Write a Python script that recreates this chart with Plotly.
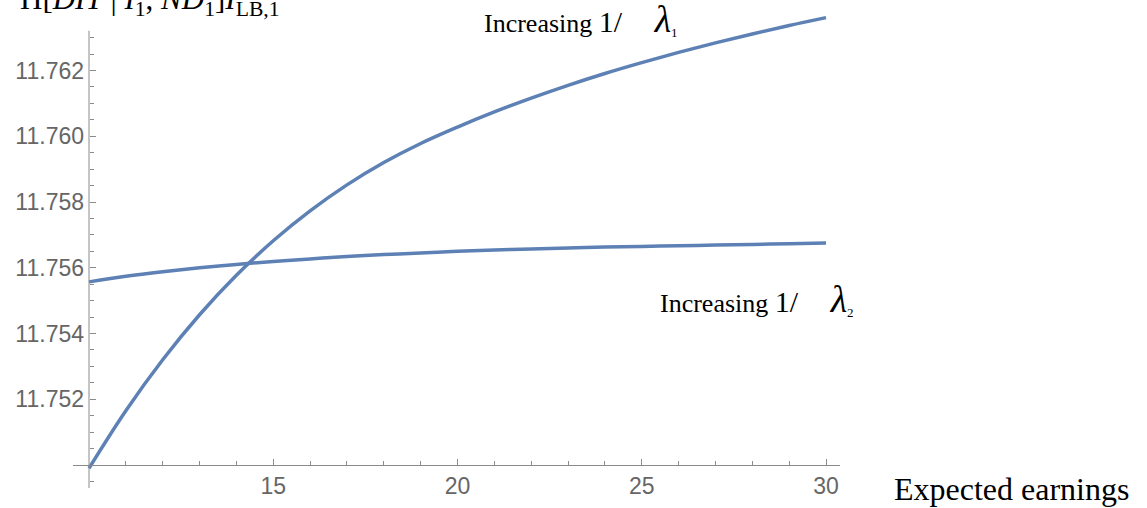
import plotly.graph_objects as go

# Data
earnings = [10, 11, 12, 13, 14, 15, 16, 17, 18, 19, 20,
            21, 22, 23, 24, 25, 26, 27, 28, 29, 30]
profit_lambda1 = [11.74990, 11.75165, 11.75320, 11.75457, 11.75577, 11.75682,
                  11.75773, 11.75852, 11.75920, 11.75978, 11.76028,
                  11.76074, 11.76116, 11.76155, 11.76191, 11.76224,
                  11.76255, 11.76284, 11.76311, 11.76337, 11.76361]
profit_lambda2 = [11.75557, 11.75574, 11.75588, 11.75600, 11.75610, 11.75619,
                  11.75627, 11.75634, 11.75640, 11.75645, 11.75650,
                  11.75654, 11.75657, 11.75660, 11.75663, 11.75665,
                  11.75667, 11.75669, 11.75671, 11.75673, 11.75675]

x_major = [15, 20, 25, 30]
x_minor = [11, 12, 13, 14, 16, 17, 18, 19, 21, 22, 23, 24, 26, 27, 28, 29]
y_major = [11.752, 11.754, 11.756, 11.758, 11.760, 11.762]
y_major_labels = ["11.752", "11.754", "11.756", "11.758", "11.760", "11.762"]
y_minor = [11.7495, 11.7505, 11.751, 11.7515, 11.7525, 11.753, 11.7535,
           11.7545, 11.755, 11.7555, 11.7565, 11.757, 11.7575, 11.7585,
           11.759, 11.7595, 11.7605, 11.761, 11.7615, 11.7625, 11.763]

LINE = "#5E81B5"
AX = "#8a8a8a"
TICKFONT = dict(family="Liberation Sans, Arial, sans-serif", size=23, color="#666666")
SERIF = "Liberation Serif, Times New Roman, serif"

X_RANGE = [9.5658, 30.380]
Y_RANGE = [11.74930, 11.76378]

fig = go.Figure()
fig.add_trace(go.Scatter(x=earnings, y=profit_lambda1, mode="lines",
                         line=dict(color=LINE, width=3.5, shape="spline"),
                         showlegend=False, hoverinfo="skip"))
fig.add_trace(go.Scatter(x=earnings, y=profit_lambda2, mode="lines",
                         line=dict(color=LINE, width=3.5, shape="spline"),
                         showlegend=False, hoverinfo="skip"))

xpos = (10 - X_RANGE[0]) / (X_RANGE[1] - X_RANGE[0])
ypos = (11.750 - Y_RANGE[0]) / (Y_RANGE[1] - Y_RANGE[0])

fig.update_layout(
    width=1147, height=508,
    margin=dict(l=73, r=307, t=12, b=20, autoexpand=False),
    paper_bgcolor="white", plot_bgcolor="white",
    xaxis=dict(range=X_RANGE, domain=[0, 1], anchor="free", position=ypos,
               automargin=False,
               showgrid=False, zeroline=False,
               showline=True, linecolor=AX, linewidth=1,
               tickmode="array", tickvals=x_major, ticktext=[str(v) for v in x_major],
               ticks="inside", ticklen=6, tickcolor=AX, tickwidth=1,
               tickfont=TICKFONT,
               minor=dict(tickmode="array", tickvals=x_minor, ticks="inside",
                          ticklen=4, tickcolor=AX, tickwidth=1, showgrid=False)),
    yaxis=dict(range=Y_RANGE, domain=[0, 1], anchor="free", position=xpos,
               automargin=False, ticklabelstandoff=5,
               showgrid=False, zeroline=False, showline=False,
               tickmode="array", tickvals=y_major, ticktext=y_major_labels,
               ticks="inside", ticklen=6, tickcolor=AX, tickwidth=1,
               tickfont=TICKFONT,
               minor=dict(tickmode="array", tickvals=y_minor, ticks="inside",
                          ticklen=4, tickcolor=AX, tickwidth=1, showgrid=False)),
    shapes=[dict(type="line", xref="x", yref="y", x0=10, x1=10,
                 y0=11.74930, y1=11.76321, line=dict(color=AX, width=1))],
)

def px_x(p):
    return (p - 73) / 767.0

def px_y(p):
    return (488 - p) / 476.0

LAM = ("Increasing <span style='font-size:30px'>1/</span>&nbsp;&nbsp;&nbsp;&nbsp;&nbsp;"
       "<span style='font-size:38px'><i>λ</i></span>"
       "<sub><span style='font-size:13px'>{}</span></sub>")

fig.add_annotation(text="Expected earnings", xref="paper", yref="paper",
                   x=px_x(892), y=px_y(489), xanchor="left", yanchor="middle",
                   showarrow=False, font=dict(family=SERIF, size=32, color="black"))
fig.add_annotation(text=LAM.format(1), xref="paper", yref="paper",
                   x=px_x(482), y=px_y(19), xanchor="left", yanchor="middle",
                   showarrow=False, font=dict(family=SERIF, size=26, color="black"))
fig.add_annotation(text=LAM.format(2), xref="paper", yref="paper",
                   x=px_x(658), y=px_y(299), xanchor="left", yanchor="middle",
                   showarrow=False, font=dict(family=SERIF, size=26, color="black"))
fig.add_annotation(text="Π[<i>DIT</i> | <i>I</i><sub>1</sub>, <i>ND</i><sub>1</sub>]<i>I</i><sub>LB,1</sub>",
                   xref="paper", yref="paper",
                   x=px_x(18), y=px_y(1), xanchor="left", yanchor="middle",
                   showarrow=False, font=dict(family=SERIF, size=31, color="black"))

fig.write_html("out.html", config={"displayModeBar": False},
               post_script="document.body.style.margin='0';")
